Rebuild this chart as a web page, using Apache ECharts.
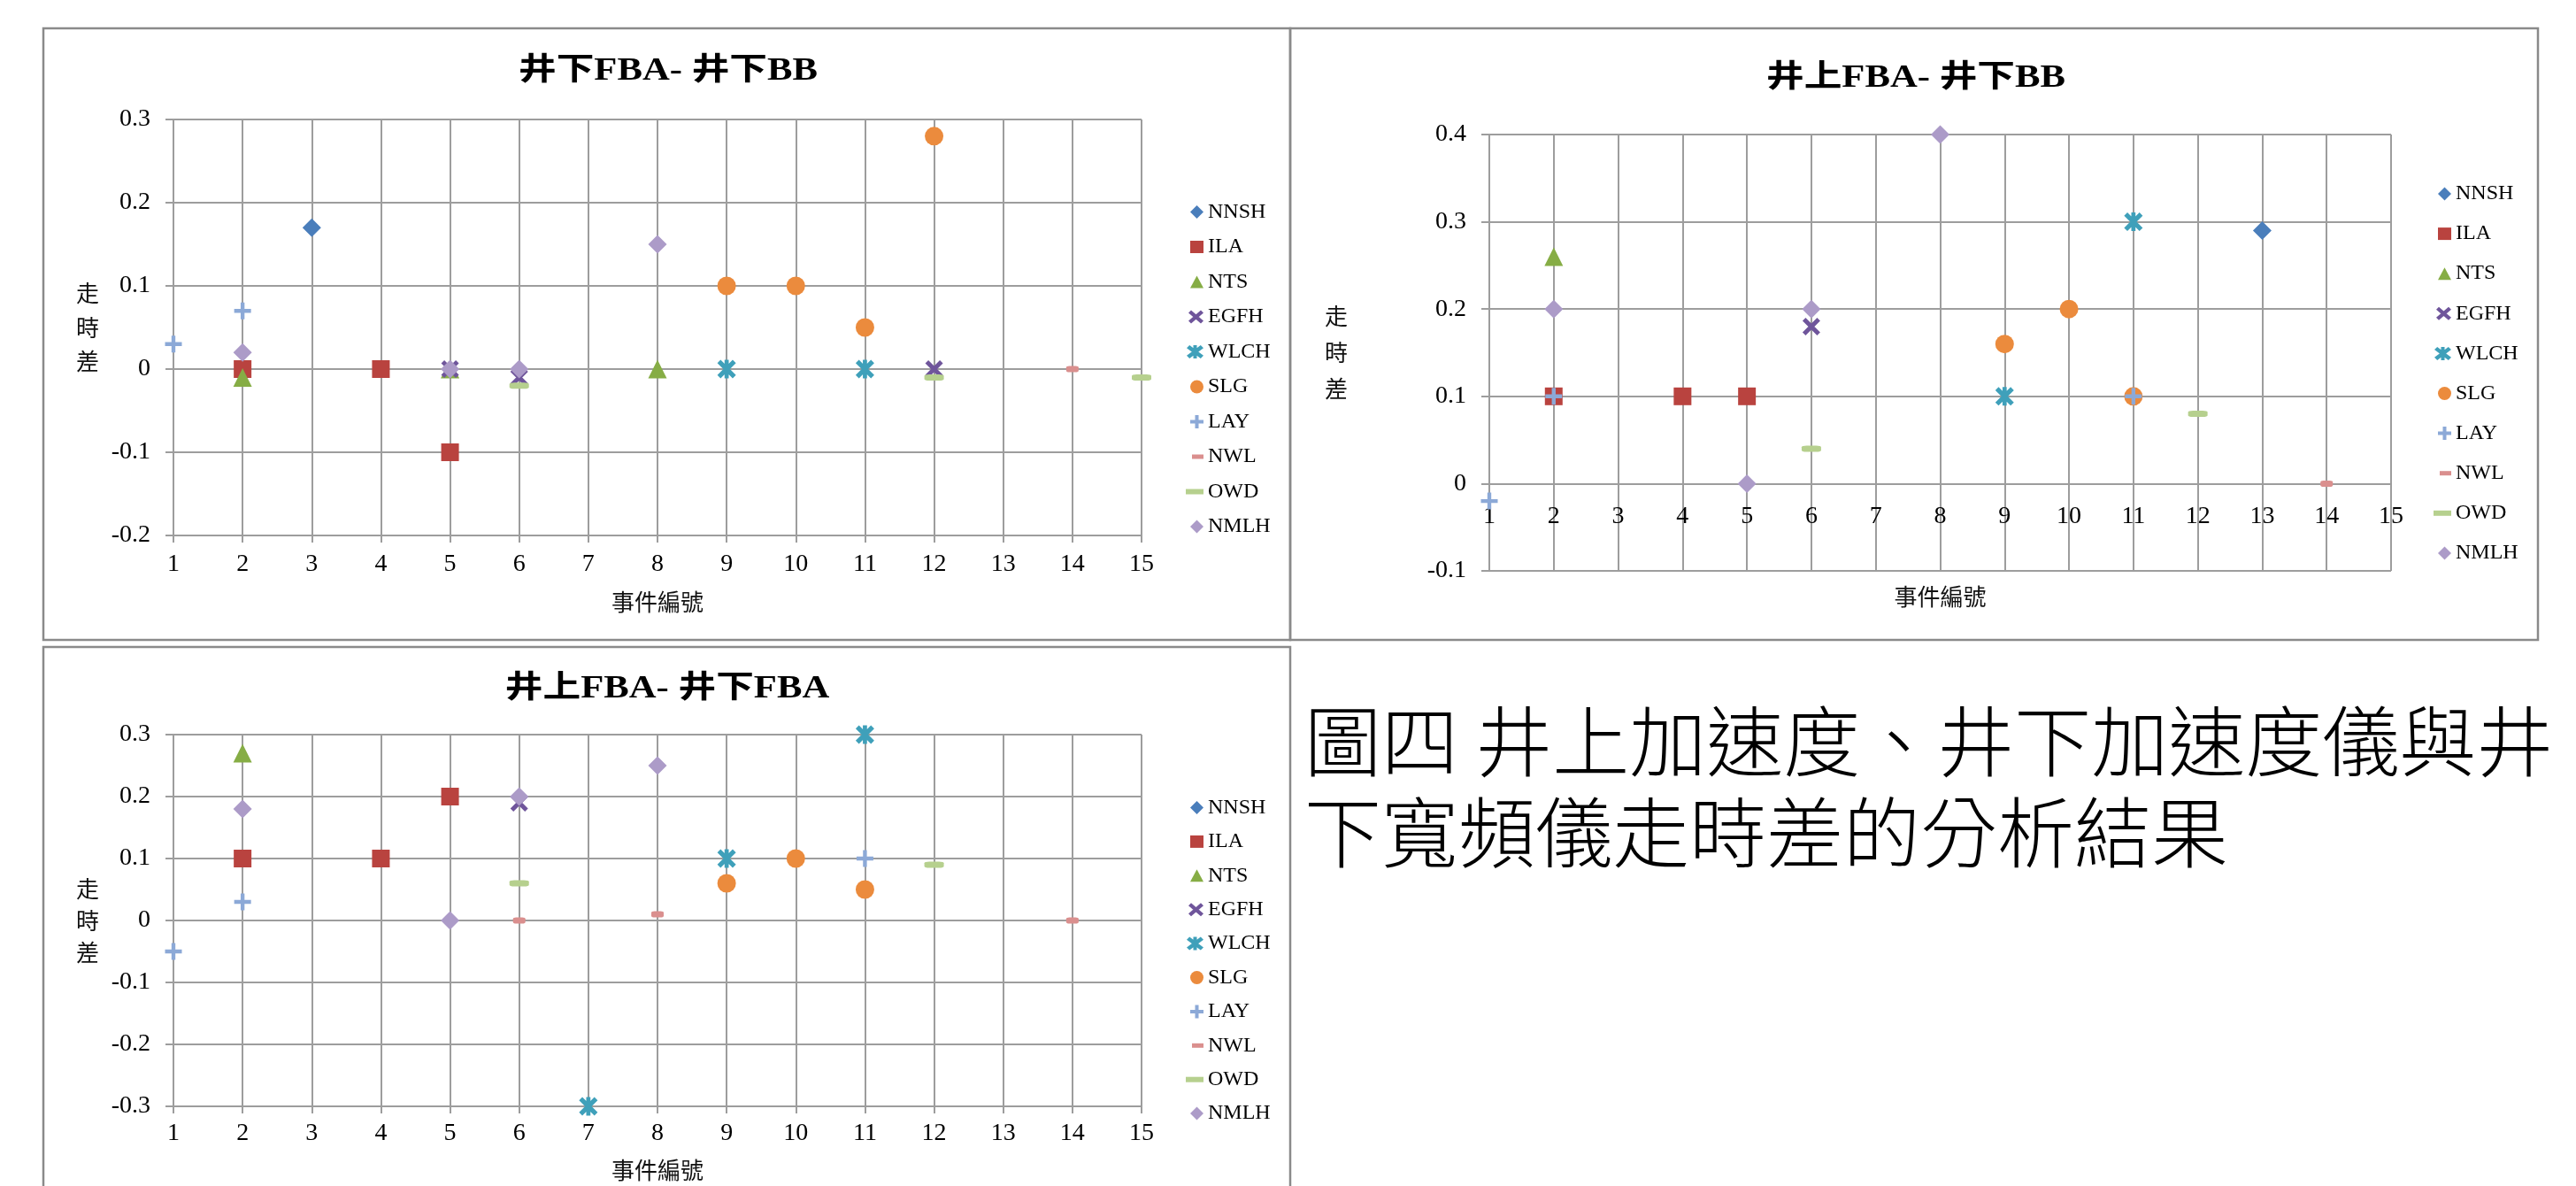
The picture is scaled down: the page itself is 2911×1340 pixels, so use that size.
<!DOCTYPE html>
<html>
<head>
<meta charset="utf-8">
<script src="https://cdn.jsdelivr.net/npm/echarts@6/dist/echarts.min.js"></script>
<style>
  html, body { margin: 0; padding: 0; background: #fff; }
  #main { width: 2911px; height: 1340px; }
</style>
</head>
<body>
<div id="main"></div>
<script>
// ---- data -------------------------------------------------------------
const stations = ['NNSH', 'ILA', 'NTS', 'EGFH', 'WLCH', 'SLG', 'LAY', 'NWL', 'OWD', 'NMLH'];

// [event number, travel-time difference] per station, in station order
const downFbaVsDownBb = [
  [[3, 0.17]],
  [[2, 0], [4, 0], [5, -0.1]],
  [[2, -0.01], [5, 0], [8, 0]],
  [[5, 0], [6, -0.01], [12, 0]],
  [[9, 0], [11, 0]],
  [[9, 0.1], [10, 0.1], [11, 0.05], [12, 0.28]],
  [[1, 0.03], [2, 0.07]],
  [[14, 0]],
  [[6, -0.02], [12, -0.01], [15, -0.01]],
  [[2, 0.02], [5, 0], [6, 0], [8, 0.15]]
];

const upFbaVsDownBb = [
  [[13, 0.29]],
  [[2, 0.1], [4, 0.1], [5, 0.1]],
  [[2, 0.26]],
  [[6, 0.18]],
  [[9, 0.1], [11, 0.3]],
  [[9, 0.16], [10, 0.2], [11, 0.1]],
  [[1, -0.02], [2, 0.1], [11, 0.1]],
  [[14, 0]],
  [[6, 0.04], [12, 0.08]],
  [[2, 0.2], [5, 0], [6, 0.2], [8, 0.4]]
];

const upFbaVsDownFba = [
  [],
  [[2, 0.1], [4, 0.1], [5, 0.2]],
  [[2, 0.27]],
  [[6, 0.19]],
  [[7, -0.3], [9, 0.1], [11, 0.3]],
  [[9, 0.06], [10, 0.1], [11, 0.05]],
  [[1, -0.05], [2, 0.03], [11, 0.1]],
  [[6, 0], [8, 0.01], [14, 0]],
  [[6, 0.06], [12, 0.09]],
  [[2, 0.18], [5, 0], [6, 0.2], [8, 0.25]]
];

const panelTitles = ['井下FBA- 井下BB', '井上FBA- 井下BB', '井上FBA- 井下FBA'];
const yMins = [-0.2, -0.1, -0.3];
const yMaxs = [0.3, 0.4, 0.3];
const eventMin = 1;
const eventMax = 15;
const xAxisTitle = '事件編號';
const yAxisTitle = '走\n時\n差';
const captionLines = ['圖四 井上加速度、井下加速度儀與井', '下寬頻儀走時差的分析結果'];

// ---- marker shapes ----------------------------------------------------
function xShape(x0, y0, w, h, t) {
  return `M${x0 + t},${y0} L${x0 + w},${y0 + h - t} L${x0 + w - t},${y0 + h} L${x0},${y0 + t} Z ` +
         `M${x0 + w - t},${y0} L${x0 + w},${y0 + t} L${x0 + t},${y0 + h} L${x0},${y0 + h - t} Z`;
}
function vBar(x0, y0, w, h, t) {
  const c = x0 + w / 2;
  return `M${c - t / 2},${y0} L${c + t / 2},${y0} L${c + t / 2},${y0 + h} L${c - t / 2},${y0 + h} Z`;
}
function plusShape(x0, y0, w, h, t) {
  const cx = x0 + w / 2, cy = y0 + h / 2, a = t / 2;
  return `M${cx - a},${y0} L${cx + a},${y0} L${cx + a},${cy - a} L${x0 + w},${cy - a} L${x0 + w},${cy + a} ` +
         `L${cx + a},${cy + a} L${cx + a},${y0 + h} L${cx - a},${y0 + h} L${cx - a},${cy + a} L${x0},${cy + a} ` +
         `L${x0},${cy - a} L${cx - a},${cy - a} Z`;
}
function circleShape(cx, cy, r) {
  return `M${cx},${cy - r} A${r},${r} 0 1,1 ${cx},${cy + r} A${r},${r} 0 1,1 ${cx},${cy - r} Z`;
}
// legend icons share a 20x16 frame so every icon keeps its own size
const frame = p => 'path://M0,0 M20,16 ' + p;

const markerStyles = [
  { color: '#4A7EBB', symbol: 'diamond', size: 21, icon: frame('M12.5,0.5 L20,8 L12.5,15.5 L5,8 Z') },
  { color: '#B9433F', symbol: 'rect', size: 20, icon: frame('M5,1 L20,1 L20,15 L5,15 Z') },
  { color: '#86AD45', symbol: 'triangle', size: 21, icon: frame('M12.5,1 L20,15 L5,15 Z') },
  { color: '#6F559B', symbol: 'path://' + xShape(0, 0, 20, 20, 3.5), size: 20, icon: frame(xShape(3, 0.5, 17, 15, 3)) },
  { color: '#3FA0BA', symbol: 'path://' + xShape(0, 0, 20, 20, 3.5) + ' ' + vBar(0, 0, 20, 20, 4.5), size: 21,
    icon: frame(xShape(1, 0.5, 19, 15, 3.2) + ' ' + vBar(1, 0.5, 19, 15, 4)) },
  { color: '#EB8B3D', symbol: 'circle', size: 21, icon: frame(circleShape(12.5, 8, 7.5)) },
  { color: '#8CA9D7', symbol: 'path://' + plusShape(0, 0, 20, 20, 4.6), size: 19, icon: frame(plusShape(5, 0.5, 15, 15, 4)) },
  { color: '#DA8F8E', symbol: 'roundRect', size: [14, 7], icon: frame('M7,5.5 L20,5.5 L20,10.5 L7,10.5 Z') },
  { color: '#B6D08E', symbol: 'roundRect', size: [22, 7], icon: frame('M0,5 L20,5 L20,11 L0,11 Z') },
  { color: '#AC9BC8', symbol: 'diamond', size: 21, icon: frame('M12.5,0.5 L20,8 L12.5,15.5 L5,8 Z') }
];

// ---- layout of the three panels ---------------------------------------
// crossAtZero: the event axis is drawn through the zero line of the time axis
const panels = [
  { data: downFbaVsDownBb, grid: { left: 196, top: 135, width: 1094, height: 470 },
    crossAtZero: false, xLabelMargin: 19, xNameGap: 62, yNameGap: 84, yNameLine: 38.5,
    legend: { left: 1340, top: 227.5, gap: 15.5 }, title: [755, 81],
    frame: { x: 49, y: 32, w: 1409, h: 691 } },
  { data: upFbaVsDownBb, grid: { left: 1683, top: 152, width: 1019, height: 493 },
    crossAtZero: true, xLabelMargin: 23, xNameGap: 114.5, yNameGap: 160, yNameLine: 41,
    legend: { left: 2750, top: 207, gap: 21.1 }, title: [2165, 89],
    frame: { x: 1458, y: 32, w: 1410, h: 691 } },
  { data: upFbaVsDownFba, grid: { left: 196, top: 830, width: 1094, height: 420 },
    crossAtZero: false, xLabelMargin: 17, xNameGap: 59, yNameGap: 84, yNameLine: 36,
    legend: { left: 1340, top: 900.5, gap: 14.4 }, title: [754, 779],
    frame: { x: 49, y: 731, w: 1409, h: 640 } }
];

const SERIF = '"Liberation Serif", "Times New Roman", serif';
const CJK = '"Noto Sans CJK TC", "Noto Sans CJK SC", sans-serif';
const GRID_GRAY = '#9d9d9d';

const grids = [], xAxes = [], yAxes = [], legends = [], series = [], graphics = [];

panels.forEach((p, i) => {
  grids.push(Object.assign({ show: false, containLabel: false, outerBoundsMode: 'none' }, p.grid));

  // lift the event axis from the bottom edge up to where the time axis reads zero
  const zeroLift = p.crossAtZero ? -p.grid.height * (0 - yMins[i]) / (yMaxs[i] - yMins[i]) : 0;

  xAxes.push({
    type: 'value', gridIndex: i, min: eventMin, max: eventMax, interval: 1,
    offset: zeroLift,
    name: xAxisTitle, nameLocation: 'middle', nameGap: p.xNameGap, nameMoveOverlap: false,
    nameTextStyle: { fontFamily: CJK, fontSize: 26, color: '#111' },
    axisLine: { show: true, onZero: false, lineStyle: { color: GRID_GRAY, width: 2 } },
    axisTick: { show: !p.crossAtZero, length: 8, lineStyle: { color: GRID_GRAY, width: 2 } },
    axisLabel: { margin: p.xLabelMargin, fontFamily: SERIF, fontSize: 28, color: '#000' },
    splitLine: { show: true, lineStyle: { color: GRID_GRAY, width: 2 } }
  });

  yAxes.push({
    type: 'value', gridIndex: i, min: yMins[i], max: yMaxs[i], interval: 0.1,
    name: yAxisTitle, nameLocation: 'middle', nameRotate: 0, nameGap: p.yNameGap, nameMoveOverlap: false,
    nameTextStyle: { fontFamily: CJK, fontSize: 26, lineHeight: p.yNameLine, color: '#111' },
    axisLine: { show: true, onZero: false, lineStyle: { color: GRID_GRAY, width: 2 } },
    axisTick: { show: true, length: 9, lineStyle: { color: GRID_GRAY, width: 2 } },
    axisLabel: { margin: 26, fontFamily: SERIF, fontSize: 28, color: '#000',
                 formatter: v => String(Number(v.toFixed(1))) },
    splitLine: { show: true, lineStyle: { color: GRID_GRAY, width: 2 } }
  });

  legends.push({
    orient: 'vertical', left: p.legend.left, top: p.legend.top, itemGap: p.legend.gap,
    itemWidth: 20, itemHeight: 16, selectedMode: false, padding: 0,
    textStyle: { fontFamily: SERIF, fontSize: 24, lineHeight: 24, color: '#000' },
    data: stations.map((s, k) => ({ name: s, icon: markerStyles[k].icon }))
  });

  stations.forEach((s, k) => {
    const m = markerStyles[k];
    series.push({
      type: 'scatter', name: s, xAxisIndex: i, yAxisIndex: i,
      data: p.data[k], symbol: m.symbol, symbolSize: m.size,
      itemStyle: { color: m.color, opacity: 1 },
      emphasis: { disabled: true }, silent: true, animation: false
    });
  });

  graphics.push({
    type: 'rect', silent: true, z: 0,
    shape: { x: p.frame.x, y: p.frame.y, width: p.frame.w, height: p.frame.h },
    style: { fill: 'none', stroke: '#8a8a8a', lineWidth: 2.5 }
  });
  graphics.push({
    type: 'text', silent: true, x: p.title[0], y: p.title[1], scaleX: 1.22,
    style: { text: panelTitles[i], fontFamily: SERIF + ', ' + CJK, fontWeight: 'bold', fontSize: 35,
             fill: '#000', align: 'center', verticalAlign: 'middle' }
  });
});

captionLines.forEach((line, j) => {
  graphics.push({
    type: 'text', silent: true, x: 1474, y: 838 + j * 103,
    style: { text: line, fontFamily: CJK, fontSize: 87, fontWeight: 300, fill: '#000',
             align: 'left', verticalAlign: 'middle' }
  });
});

const chart = echarts.init(document.getElementById('main'), null, { renderer: 'canvas' });
chart.setOption({
  backgroundColor: '#ffffff',
  animation: false,
  grid: grids,
  xAxis: xAxes,
  yAxis: yAxes,
  legend: legends,
  series: series,
  graphic: graphics
});
</script>
</body>
</html>
